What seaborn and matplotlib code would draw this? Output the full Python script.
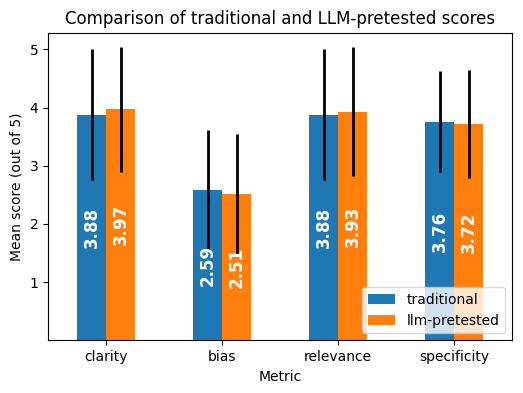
import matplotlib
matplotlib.use("Agg")
import matplotlib.pyplot as plt
import seaborn as sns
import pandas as pd
import numpy as np

metrics = ["clarity", "bias", "relevance", "specificity"]
groups = ["traditional", "llm-pretested"]
trad_mean = [3.88, 2.59, 3.88, 3.76]
llm_mean = [3.97, 2.51, 3.93, 3.72]
trad_std = [1.12, 1.02, 1.13, 0.87]
llm_std = [1.07, 1.03, 1.11, 0.93]

df = pd.DataFrame({
    "Metric": metrics * 2,
    "group": [groups[0]] * 4 + [groups[1]] * 4,
    "score": trad_mean + llm_mean,
    "sd": trad_std + llm_std,
})

fig, ax = plt.subplots(figsize=(5.23, 3.93), dpi=100)
sns.barplot(data=df, x="Metric", y="score", hue="group", order=metrics,
            hue_order=groups, palette=["#1f77b4", "#ff7f0e"], width=0.5,
            errorbar=None, saturation=1, ax=ax)

# error bars + labels per series
for cont, g in zip(ax.containers, groups):
    sub = df[df["group"] == g].set_index("Metric").loc[metrics]
    xs = [b.get_x() + b.get_width() / 2 for b in cont]
    ax.errorbar(xs, sub["score"], yerr=sub["sd"], fmt="none", ecolor="black",
                elinewidth=2, capsize=0)
    ax.bar_label(cont, labels=[f"{v:.2f}" for v in sub["score"]],
                 label_type="center", rotation=90, color="white",
                 fontweight="bold", fontsize=12)

ax.set_xlim(-0.5, 3.5)
ax.set_ylim(0, 5.29)
ax.set_yticks([1, 2, 3, 4, 5])
ax.set_title("Comparison of traditional and LLM-pretested scores")
ax.set_xlabel("Metric")
ax.set_ylabel("Mean score (out of 5)")
ax.legend(loc="lower right", title=None)

fig.subplots_adjust(left=0.092, right=0.979, top=0.917, bottom=0.134)
plt.savefig("out.png", dpi=100)
